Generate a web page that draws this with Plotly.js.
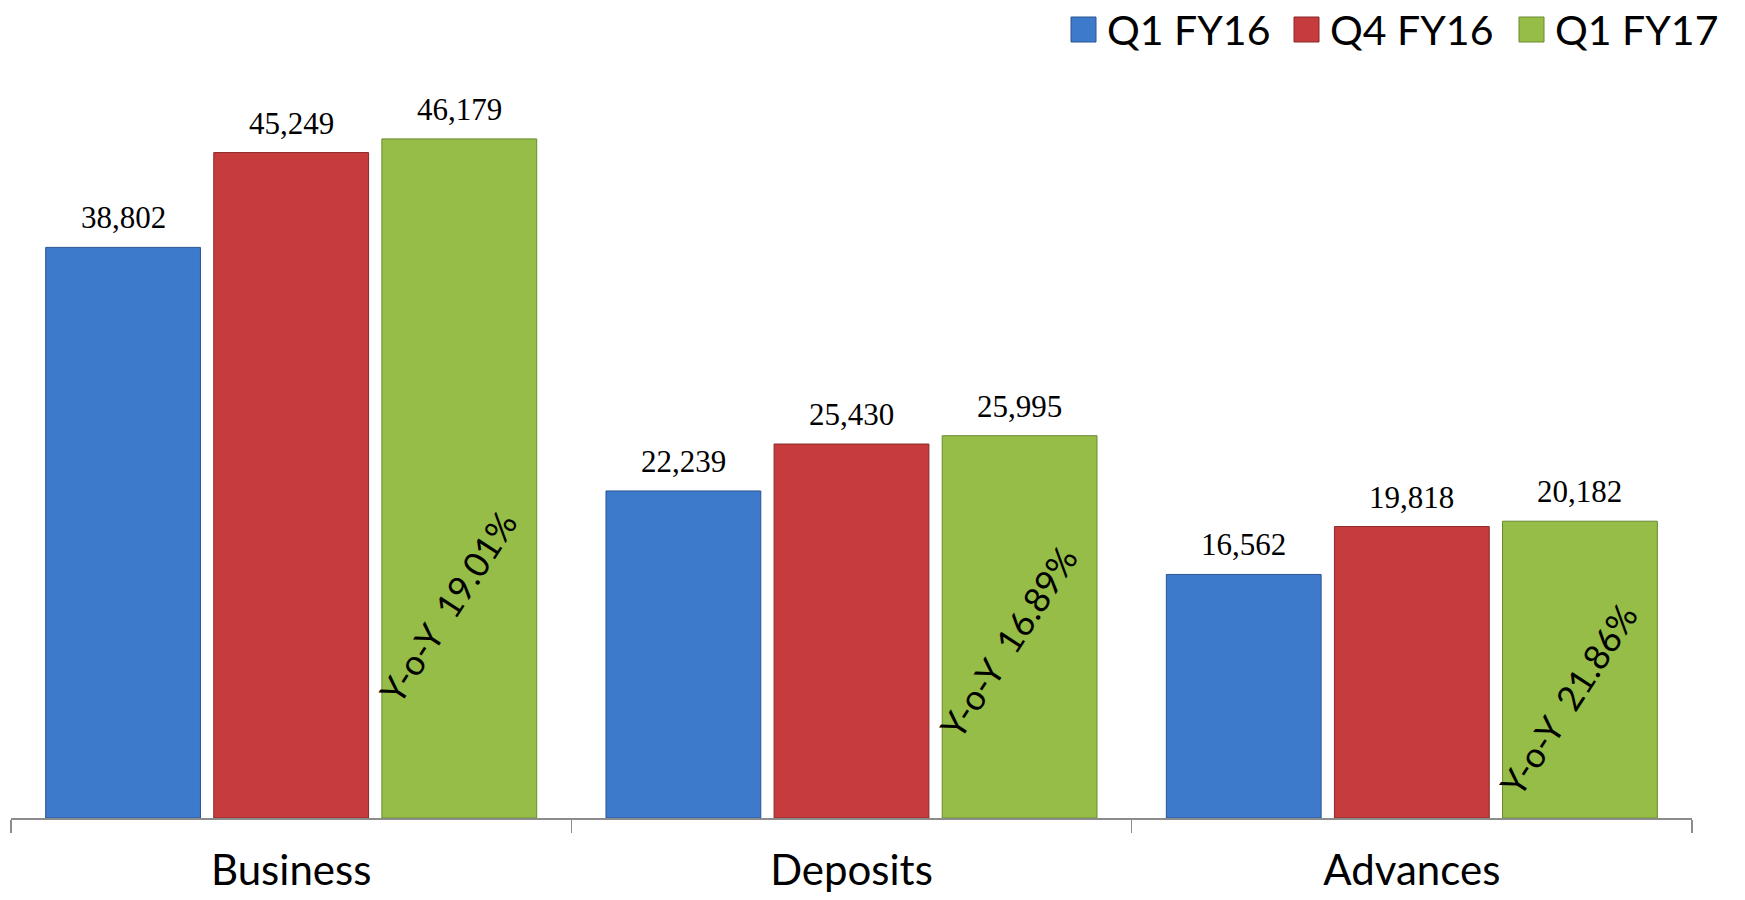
<!DOCTYPE html>
<html><head><meta charset="utf-8">
<script src="https://cdn.plot.ly/plotly-3.0.1.min.js"></script>
<style>html,body{margin:0;padding:0;background:#fff}#chart{width:1745px;height:900px}</style>
</head><body><div id="chart"></div>
<script>
// ---- data ----
const categories = ['Business', 'Deposits', 'Advances'];
const seriesNames = ['Q1 FY16', 'Q4 FY16', 'Q1 FY17'];
const q1fy16 = [38802, 22239, 16562];
const q4fy16 = [45249, 25430, 19818];
const q1fy17 = [46179, 25995, 20182];
const yoyLabels = ['Y-o-Y\u00a0 19.01%', 'Y-o-Y\u00a0 16.89%', 'Y-o-Y\u00a0 21.86%'];

// ---- styling / layout ----
const seriesValues = [q1fy16, q4fy16, q1fy17];
const colors = ['#3d7acb', '#c63c3c', '#95bd47'];
const lineColors = ['#2b5590', '#8a2828', '#6a8a30'];
const W = 1745, H = 900, M = {l: 11, r: 53, t: 80, b: 82};
const plotW = W - M.l - M.r, plotH = H - M.t - M.b;
const bargap = 0.10, bargroupgap = 0.079;
const slot = plotW / categories.length * (1 - bargap) / seriesNames.length;
const yMax = 50184;
const yoyPos = [14350, 12000, 8100];      // label positions (y, data units)
const legendLeft = [1071, 1294, 1519];   // legend square left edges (px)
const sansFont = 'Lato, "Open Sans", sans-serif';

const px2x = p => (p - M.l) / plotW;
const px2y = p => (H - M.b - p) / plotH;

const traces = seriesNames.map((name, s) => ({
  type: 'bar', name: name, x: categories, y: seriesValues[s],
  marker: {color: colors[s], line: {color: lineColors[s], width: 1}},
  showlegend: false, hoverinfo: 'x+y+name'
}));

const annotations = [];
seriesValues.forEach((vals, s) => {
  vals.forEach((v, c) => {
    annotations.push({
      x: categories[c], y: v, xref: 'x', yref: 'y',
      xshift: (s - 1) * slot, yshift: 10, yanchor: 'bottom', xanchor: 'center',
      text: v.toLocaleString('en-US'), showarrow: false,
      font: {family: '"Liberation Serif", "Times New Roman", serif', size: 31, color: '#000'}
    });
  });
});
yoyLabels.forEach((t, c) => {
  annotations.push({
    x: categories[c], y: yoyPos[c], xref: 'x', yref: 'y',
    xshift: slot - 12, xanchor: 'center', yanchor: 'middle',
    text: t, textangle: -57, showarrow: false,
    font: {family: sansFont, size: 35, color: '#000'}
  });
});

const shapes = [];
seriesNames.forEach((name, s) => {
  const x0 = legendLeft[s], y0 = 17, sz = 25;
  shapes.push({
    type: 'rect', xref: 'paper', yref: 'paper',
    x0: px2x(x0), x1: px2x(x0 + sz), y0: px2y(y0 + sz), y1: px2y(y0),
    fillcolor: colors[s], line: {color: lineColors[s], width: 1}
  });
  annotations.push({
    xref: 'paper', yref: 'paper', x: px2x(x0 + sz + 9), y: px2y(y0 + sz / 2),
    xanchor: 'left', yanchor: 'middle', text: name, showarrow: false,
    font: {family: sansFont, size: 41, color: '#000'}
  });
});

const layout = {
  width: W, height: H,
  margin: M,
  paper_bgcolor: '#ffffff', plot_bgcolor: '#ffffff',
  barmode: 'group', bargap: bargap, bargroupgap: bargroupgap,
  showlegend: false,
  xaxis: {
    type: 'category', showline: true, linecolor: '#8c8c8c', linewidth: 1.5,
    ticks: 'outside', tickson: 'boundaries', ticklen: 13, tickwidth: 1.5, tickcolor: '#8c8c8c',
    ticklabelstandoff: 15,
    tickfont: {family: sansFont, size: 42, color: '#000'},
    showgrid: false, zeroline: false, fixedrange: true
  },
  yaxis: {visible: false, range: [0, yMax], showgrid: false, zeroline: false, fixedrange: true},
  annotations: annotations,
  shapes: shapes
};

Plotly.newPlot('chart', traces, layout, {displayModeBar: false, staticPlot: true});
</script>
</body></html>
